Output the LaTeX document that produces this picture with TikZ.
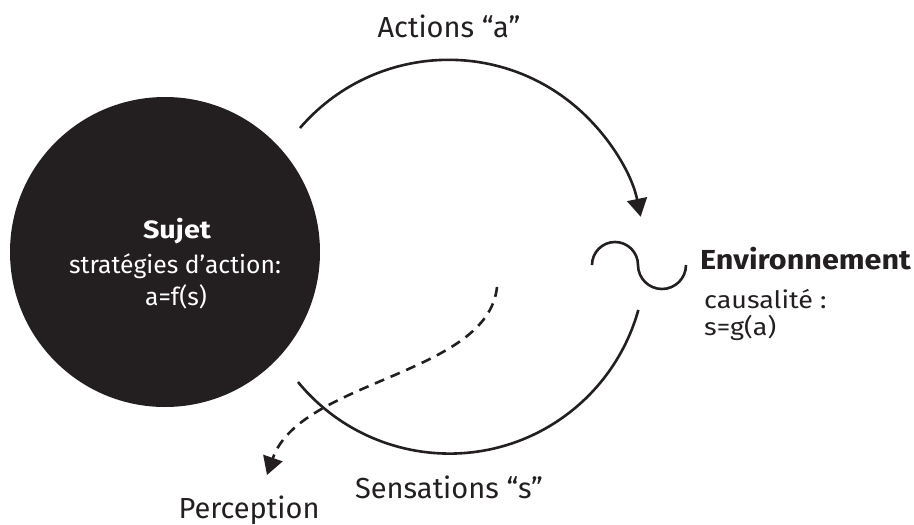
\documentclass[tikz,border=0pt]{standalone}
\usepackage{fontspec}
\setmainfont{Fira Sans}
\usetikzlibrary{arrows.meta}
\definecolor{dark}{HTML}{231F20}
\begin{document}
\begin{tikzpicture}[x=1pt,y=-1pt,
  loopline/.style={line width=2.6pt,color=dark},
  tip/.style={-{Triangle[width=20pt,length=18pt]}},
  lbl/.style={font=\fontsize{29}{32}\selectfont,color=dark,inner sep=0pt},
  whitetxt/.style={color=white,inner sep=0pt,align=center}]
\useasboundingbox (0,0) rectangle (914,525);
% loop arcs
\coordinate (topstart) at (300,128);
\coordinate (botstart) at (298,382);
\coordinate (c) at (450,257);
\draw[loopline,tip] (topstart) arc[start angle=-139.3, end angle=-11.5, radius=196];
\draw[loopline] (botstart) arc[start angle=140.6, end angle=15.5, radius=196];
% subject
\node[circle,fill=dark,minimum size=310pt,inner sep=0pt] (sujet) at (165,252) {};
\node[whitetxt,font=\fontsize{25}{28}\selectfont\bfseries\addfontfeature{FakeStretch=1.15},anchor=base] (sujt) at (177,238) {Sujet};
\node[whitetxt,font=\fontsize{24.7}{28}\selectfont,anchor=base] (strat) at (175,273) {stratégies d’action:};
\node[whitetxt,font=\fontsize{24.7}{28}\selectfont,anchor=base] (af) at (176,305) {a=f(s)};
% wave
\coordinate (w0) at (592,265);
\draw[loopline] (w0) arc[start angle=180, end angle=360, radius=23]
  arc[start angle=180, end angle=0, radius=24];
% environment
\node[lbl,font=\fontsize{27.5}{30}\selectfont\bfseries\addfontfeature{FakeStretch=1.11},anchor=base west] (env) at (700,269) {Environnement};
\node[lbl,font=\fontsize{24}{28}\selectfont\addfontfeature{FakeStretch=1.12},anchor=base west] (caus) at (704,308) {causalité :};
\node[lbl,font=\fontsize{24}{28}\selectfont\addfontfeature{FakeStretch=1.12},anchor=base west] (sg) at (704,335) {s=g(a)};
% labels
\node[lbl,anchor=base] (act) at (449,37) {Actions “a”};
\node[lbl,anchor=base] (sens) at (449,498) {Sensations “s”};
\node[lbl,anchor=base] (perc) at (249,518) {Perception};
% dashed perception
\coordinate (d0) at (497,287);
\coordinate (d1) at (267,475);
\draw[loopline,dashed,dash pattern=on 10pt off 7pt,tip] (d0) .. controls (488,375) and (300,380) .. (d1);
\end{tikzpicture}
\end{document}
